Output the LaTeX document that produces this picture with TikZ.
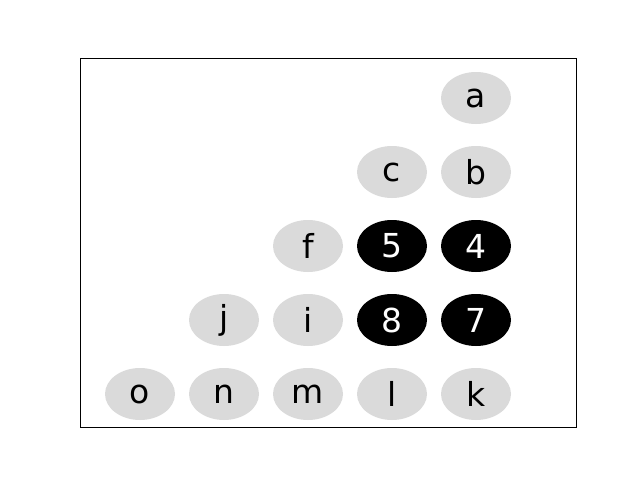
\documentclass[tikz,border=0pt]{standalone}
\usepackage{fontspec}
\setmainfont{DejaVu Sans}
\usetikzlibrary{shapes.geometric}
\definecolor{cellgray}{HTML}{DADADA}
\tikzset{
  cell/.style={ellipse, fill=cellgray, minimum width=70pt, minimum height=52pt,
               inner sep=0pt, font=\fontsize{33}{33}\selectfont},
  hotcell/.style={cell, fill=black, text=white}
}
\begin{document}
\begin{tikzpicture}[x=1pt,y=-1pt]
    % canvas and frame
    \useasboundingbox (0,0) rectangle (640,480);
    \draw [line width=0.8pt] (80,58) rectangle (576,427);

    % top rows
    \node [cell]    (a) at (476,98)  {a};
    \node [cell]    (c) at (392,172) {c};
    \node [cell]    (b) at (476,172) {b};

    % middle rows
    \node [cell]    (f) at (308,246) {f};
    \node [hotcell] (5) at (392,246) {5};
    \node [hotcell] (4) at (476,246) {4};
    \node [cell]    (j) at (224,320) {j};
    \node [cell]    (i) at (308,320) {i};
    \node [hotcell] (8) at (392,320) {8};
    \node [hotcell] (7) at (476,320) {7};

    % bottom row
    \node [cell]    (o) at (140,394) {o};
    \node [cell]    (n) at (224,394) {n};
    \node [cell]    (m) at (308,394) {m};
    \node [cell]    (l) at (392,394) {l};
    \node [cell]    (k) at (476,394) {k};
\end{tikzpicture}
\end{document}
